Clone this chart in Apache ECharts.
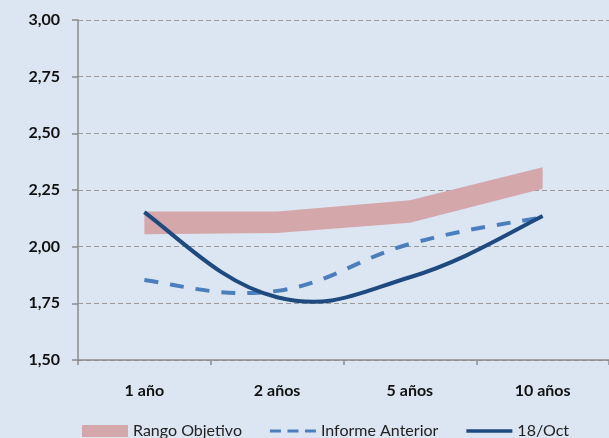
<!DOCTYPE html>
<html><head><meta charset="utf-8">
<script src="https://cdn.jsdelivr.net/npm/echarts@6/dist/echarts.min.js"></script>
<style>html,body{margin:0;padding:0;background:#DCE6F2;}#c{width:609px;height:438px;}</style>
</head><body><div id="c"></div>
<script>
var categories = ['1 año', '2 años', '5 años', '10 años'];
var rangeLow = [2.055, 2.06, 2.105, 2.255];
var rangeHigh = [2.155, 2.155, 2.205, 2.35];
var informeAnterior = [1.853, 1.805, 2.012, 2.13];
var oct18 = [2.152, 1.777, 1.865, 2.135];
var yTicks = { min: 1.5, max: 3.0, interval: 0.25 };

var rangeDiff = rangeHigh.map(function (v, i) { return +(v - rangeLow[i]).toFixed(4); });
var font = 'Lato, "Open Sans", sans-serif';

// Excel-style smoothed curve through the points, drawn in pixel space via api.coord
function smoothRenderer(values, color, width, dash) {
  return function (params, api) {
    if (params.dataIndex !== 0) return null;
    var p = values.map(function (v, i) { return api.coord([i, v]); });
    var n = p.length, k = 0.2;
    var d = 'M' + p[0][0] + ' ' + p[0][1];
    for (var i = 0; i < n - 1; i++) {
      var a = p[i], b = p[i + 1];
      var c1 = null, c2 = null;
      var prev = p[i - 1], next = p[i + 2];
      if (i + 2 < n) c2 = [b[0] - (next[0] - a[0]) * k, b[1] - (next[1] - a[1]) * k];
      if (i > 0) c1 = [a[0] + (b[0] - prev[0]) * k, a[1] + (b[1] - prev[1]) * k];
      if (!c1 && c2) c1 = [a[0] + ((b[0] - a[0]) / 3 + (c2[0] - a[0]) / 2) / 2, a[1] + ((b[1] - a[1]) / 3 + (c2[1] - a[1]) / 2) / 2];
      if (!c2 && c1) c2 = [b[0] + ((a[0] - b[0]) / 3 + (c1[0] - b[0]) / 2) / 2, b[1] + ((a[1] - b[1]) / 3 + (c1[1] - b[1]) / 2) / 2];
      if (!c1 && !c2) { c1 = a; c2 = b; }
      d += ' C' + c1[0] + ' ' + c1[1] + ' ' + c2[0] + ' ' + c2[1] + ' ' + b[0] + ' ' + b[1];
    }
    return {
      type: 'path',
      shape: { pathData: d },
      style: { fill: 'none', stroke: color, lineWidth: width, lineDash: dash || null, lineCap: 'butt' }
    };
  };
}

var chart = echarts.init(document.getElementById('c'));
chart.setOption({
  backgroundColor: '#DCE6F2',
  animation: false,
  grid: { left: 78, right: -2, top: 20, bottom: 78, containLabel: false },
  legend: {
    left: 77, top: 418, itemGap: 28, itemWidth: 46, itemHeight: 12,
    textStyle: { fontFamily: font, fontSize: 16, color: '#222' },
    data: [
      { name: 'Rango Objetivo', icon: 'rect' },
      { name: 'Informe Anterior', icon: 'path://M0,0L0,12Z M0,4.5H11V7.5H0Z M17.5,4.5H28.5V7.5H17.5Z M35,4.5H46V7.5H35Z' },
      { name: '18/Oct', icon: 'path://M0,0L0,12Z M0,4.25H46V7.75H0Z' }
    ]
  },
  xAxis: {
    type: 'category', data: categories, boundaryGap: true,
    axisLine: { lineStyle: { color: '#8C8C8C', width: 1.5 } },
    axisTick: { show: true, length: 5, lineStyle: { color: '#8C8C8C', width: 1.5 } },
    axisLabel: { margin: 23, fontFamily: font, fontSize: 16, fontWeight: 'bold', color: '#111' }
  },
  yAxis: {
    type: 'value', min: yTicks.min, max: yTicks.max, interval: yTicks.interval,
    axisLine: { show: true, lineStyle: { color: '#8C8C8C', width: 1.5 } },
    axisTick: { show: true, length: 6, lineStyle: { color: '#8C8C8C', width: 1.5 } },
    splitLine: { show: true, lineStyle: { color: '#9A9A9A', type: [5, 3], width: 1 } },
    axisLabel: {
      margin: 18, fontFamily: font, fontSize: 16, fontWeight: 'bold', color: '#111',
      formatter: function (v) { return v.toFixed(2).replace('.', ','); }
    }
  },
  series: [
    { name: 'low', type: 'line', stack: 'band', data: rangeLow, symbol: 'none',
      lineStyle: { opacity: 0 }, areaStyle: { opacity: 0 }, silent: true, z: 1 },
    { name: 'Rango Objetivo', type: 'line', stack: 'band', data: rangeDiff, symbol: 'none',
      itemStyle: { color: '#D4A7AB' }, lineStyle: { opacity: 0, width: 0 },
      areaStyle: { color: '#D4A7AB', opacity: 1 }, z: 2 },
    { name: 'Informe Anterior', type: 'custom', z: 3, silent: true,
      itemStyle: { color: '#4A7EBD' },
      data: informeAnterior.map(function (v, i) { return [i, v]; }),
      renderItem: smoothRenderer(informeAnterior, '#4A7EBD', 4, [14, 12]) },
    { name: '18/Oct', type: 'custom', z: 4, silent: true,
      itemStyle: { color: '#1F4A80' },
      data: oct18.map(function (v, i) { return [i, v]; }),
      renderItem: smoothRenderer(oct18, '#1F4A80', 4) }
  ]
});
</script></body></html>
